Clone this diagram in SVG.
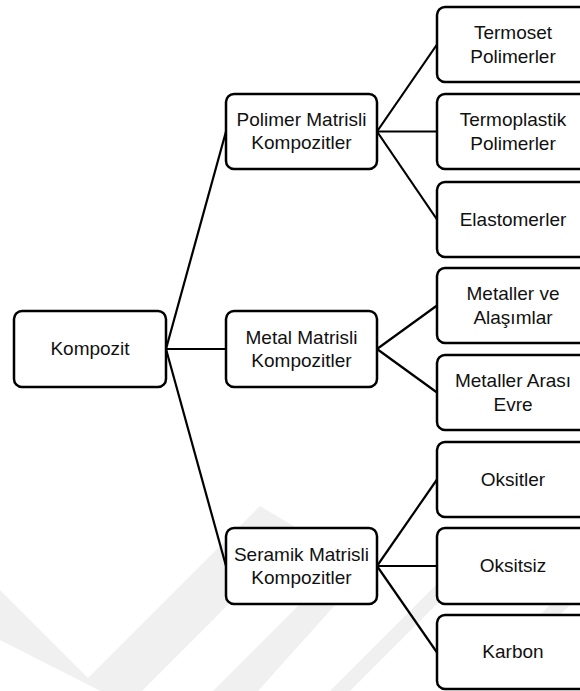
<svg xmlns="http://www.w3.org/2000/svg" width="580" height="691" viewBox="0 0 580 691">
<style>
.box{fill:#fff;stroke:#000;stroke-width:2.5}
.lbl{font-family:"Liberation Sans",Arial,sans-serif;font-size:19px;fill:#111;text-anchor:middle}
.con line{stroke:#000;stroke-width:2.2}
.wm{fill:#f0f0f0}
</style>
<rect width="580" height="691" fill="#fff"/>
<g id="watermark">
<polygon class="wm" points="0,590 88,678 200,566 260,506 300,530 215,618 128,705 0,640"/>
<polygon class="wm" points="213,691 310,594 345,594 258,691"/>
<polygon class="wm" points="330,691 440,581 460,581 350,691"/>
<polygon class="wm" points="520,635 580,575 580,595 540,635"/>
</g>
<g class="con" id="connectors">
<line x1="166" y1="349" x2="226" y2="131.5"/>
<line x1="166" y1="349" x2="226" y2="349"/>
<line x1="166" y1="349" x2="226" y2="566"/>
<line x1="377" y1="131.5" x2="437" y2="44.5"/>
<line x1="377" y1="131.5" x2="437" y2="131.5"/>
<line x1="377" y1="131.5" x2="437" y2="219.5"/>
<line x1="377" y1="349" x2="437" y2="305.5"/>
<line x1="377" y1="349" x2="437" y2="392.5"/>
<line x1="377" y1="566" x2="437" y2="479.5"/>
<line x1="377" y1="566" x2="437" y2="566"/>
<line x1="377" y1="566" x2="437" y2="652.5"/>
</g>
<g id="kompozit"><rect class="box" x="14" y="311" width="152" height="76" rx="8"/><text class="lbl" x="90" y="355">Kompozit</text></g>
<g id="polimer"><rect class="box" x="226" y="94" width="151" height="75" rx="8"/><text class="lbl" x="301.5" y="126">Polimer Matrisli</text><text class="lbl" x="301.5" y="149">Kompozitler</text></g>
<g id="metal"><rect class="box" x="226" y="311" width="151" height="76" rx="8"/><text class="lbl" x="301.5" y="343.5">Metal Matrisli</text><text class="lbl" x="301.5" y="366.5">Kompozitler</text></g>
<g id="seramik"><rect class="box" x="226" y="528" width="151" height="76" rx="8"/><text class="lbl" x="301.5" y="560.5">Seramik Matrisli</text><text class="lbl" x="301.5" y="583.5">Kompozitler</text></g>
<g id="termoset"><rect class="box" x="437" y="7" width="152" height="75" rx="8"/><text class="lbl" x="513" y="39">Termoset</text><text class="lbl" x="513" y="63">Polimerler</text></g>
<g id="termoplastik"><rect class="box" x="437" y="94" width="152" height="75" rx="8"/><text class="lbl" x="513" y="126">Termoplastik</text><text class="lbl" x="513" y="150">Polimerler</text></g>
<g id="elastomerler"><rect class="box" x="437" y="182" width="152" height="75" rx="8"/><text class="lbl" x="513" y="225.5">Elastomerler</text></g>
<g id="metaller-ve"><rect class="box" x="437" y="268" width="152" height="75" rx="8"/><text class="lbl" x="513" y="300">Metaller ve</text><text class="lbl" x="513" y="324">Alaşımlar</text></g>
<g id="metaller-arasi"><rect class="box" x="437" y="355" width="152" height="75" rx="8"/><text class="lbl" x="513" y="387">Metaller Arası</text><text class="lbl" x="513" y="411">Evre</text></g>
<g id="oksitler"><rect class="box" x="437" y="442" width="152" height="75" rx="8"/><text class="lbl" x="513" y="485.5">Oksitler</text></g>
<g id="oksitsiz"><rect class="box" x="437" y="528" width="152" height="76" rx="8"/><text class="lbl" x="513" y="572">Oksitsiz</text></g>
<g id="karbon"><rect class="box" x="437" y="615" width="152" height="74" rx="8"/><text class="lbl" x="513" y="658">Karbon</text></g>
</svg>
